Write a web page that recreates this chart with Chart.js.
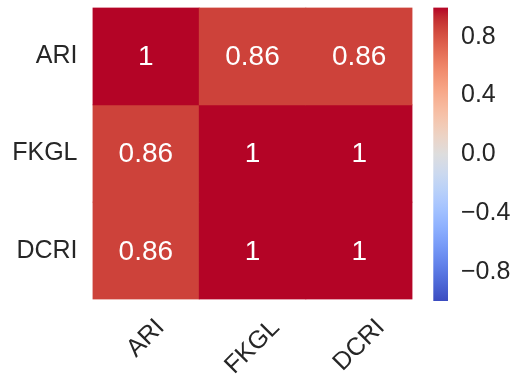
<!DOCTYPE html>
<html>
<head>
<meta charset="utf-8">
<script src="https://cdn.jsdelivr.net/npm/chart.js@4/dist/chart.umd.min.js"></script>
<style>
  html, body { margin: 0; padding: 0; background: #ffffff; }
  #wrap { position: relative; width: 514px; height: 378px; overflow: hidden; background: #fff; }
  #hm { position: absolute; left: 0; top: 0; }
  #cb { position: absolute; left: 420px; top: 0; }
</style>
</head>
<body>
<div id="wrap">
  <canvas id="hm" width="514" height="378"></canvas>
  <canvas id="cb" width="94" height="378"></canvas>
</div>
<script>
// ---- data ----
const categories = ['ARI', 'FKGL', 'DCRI'];
const rowARI  = [1, 0.86, 0.86];
const rowFKGL = [0.86, 1, 1];
const rowDCRI = [0.86, 1, 1];
const colorbarTicks = [-0.8, -0.4, 0.0, 0.4, 0.8];
const vmin = -1;
const vmax = 1;

// ---- style ----
const rows = [rowARI, rowFKGL, rowDCRI];
const TICK_FONT = { family: '"Liberation Sans", Arial, sans-serif', size: 25 };
const TICK_COLOR = '#262626';
const ANNOT_FONT = '28px "Liberation Sans", Arial, sans-serif';

// coolwarm colormap (Moreland) control points
const COOLWARM = [
  [59,76,192],[68,90,204],[77,104,215],[87,117,225],[98,130,234],[108,142,241],[119,154,247],
  [130,165,251],[141,176,254],[152,185,255],[163,194,255],[174,201,253],[184,208,249],
  [194,213,244],[204,217,238],[213,219,230],[221,221,221],[229,216,209],[236,211,197],
  [241,204,184],[245,196,172],[247,187,160],[247,177,148],[247,166,135],[244,154,123],
  [241,141,111],[236,127,99],[229,112,88],[222,96,77],[213,80,66],[203,62,56],[192,40,47],[180,4,38]
];
function cmapT(t) {
  t = Math.max(0, Math.min(1, t));
  const n = COOLWARM.length - 1;
  const f = t * n;
  const i = Math.min(n - 1, Math.floor(f));
  const r = f - i;
  const a = COOLWARM[i], b = COOLWARM[i + 1];
  const c = a.map((v, k) => Math.round(v + (b[k] - v) * r));
  return `rgb(${c[0]},${c[1]},${c[2]})`;
}
function cmap(v) { return cmapT((v - vmin) / (vmax - vmin)); }
function fmtAnnot(v) { return String(Number(v.toPrecision(2))); }
function fmtTick(v) { const s = Math.abs(v).toFixed(1); return v < -1e-9 ? '\u2212' + s : s; }

// annotations inside the cells
const annotPlugin = {
  id: 'annot',
  afterDatasetsDraw(chart) {
    const ctx = chart.ctx;
    ctx.save();
    ctx.font = ANNOT_FONT;
    ctx.fillStyle = '#ffffff';
    ctx.textAlign = 'center';
    ctx.textBaseline = 'middle';
    chart.data.datasets.forEach((ds, i) => {
      const meta = chart.getDatasetMeta(i);
      meta.data.forEach((el, j) => {
        const cy = (el.y + el.base) / 2;
        ctx.fillText(fmtAnnot(ds.values[j]), el.x, cy + 1);
      });
    });
    ctx.restore();
  }
};

// rotated x tick labels (centered bbox like matplotlib)
const xLabelPlugin = {
  id: 'xlabels',
  afterDraw(chart) {
    const ctx = chart.ctx;
    const xs = chart.scales.x;
    ctx.save();
    ctx.font = `${TICK_FONT.size}px ${TICK_FONT.family}`;
    ctx.fillStyle = TICK_COLOR;
    ctx.textAlign = 'center';
    ctx.textBaseline = 'middle';
    categories.forEach((lab, i) => {
      const cx = xs.getPixelForValue(i);
      const w = ctx.measureText(lab).width;
      const bb = (w + 19) * Math.SQRT1_2;
      const cy = chart.chartArea.bottom + 17.5 + bb / 2;
      ctx.save();
      ctx.translate(cx, cy);
      ctx.rotate(-Math.PI / 4);
      ctx.fillText(lab, 0, 0);
      ctx.restore();
    });
    ctx.restore();
  }
};

new Chart(document.getElementById('hm'), {
  type: 'bar',
  data: {
    labels: categories,
    datasets: rows.map((r, i) => ({
      label: categories[i],
      data: r.map(() => 1),
      values: r,
      backgroundColor: r.map(cmap),
      borderWidth: 0,
      barPercentage: 1,
      categoryPercentage: 1
    }))
  },
  options: {
    responsive: false,
    animation: false,
    devicePixelRatio: 1,
    layout: { padding: { left: 0, top: 7.5, right: 101.5, bottom: 0 } },
    plugins: { legend: { display: false }, tooltip: { enabled: false } },
    scales: {
      x: {
        stacked: true,
        grid: { display: false, drawTicks: false },
        border: { display: false },
        ticks: { display: false },
        afterFit(s) { s.height = 78.5; s.paddingLeft = 0; s.paddingRight = 0; }
      },
      y: {
        stacked: true,
        min: 0, max: 3,
        reverse: true,
        grid: { display: false, drawTicks: false },
        border: { display: false },
        afterBuildTicks(s) { s.ticks = categories.map((c, i) => ({ value: i + 0.5 })); },
        ticks: {
          padding: 15,
          font: TICK_FONT,
          color: TICK_COLOR,
          callback: (v) => categories[Math.floor(v)]
        },
        afterFit(s) { s.width = 92.5; s.paddingTop = 0; s.paddingBottom = 0; }
      }
    }
  },
  plugins: [annotPlugin, xLabelPlugin]
});

// colorbar
new Chart(document.getElementById('cb'), {
  type: 'bar',
  data: {
    labels: [''],
    datasets: [{
      data: [[vmin, vmax]],
      borderWidth: 0,
      barPercentage: 1,
      categoryPercentage: 1,
      backgroundColor: (c) => {
        const chart = c.chart;
        if (!chart.chartArea) return cmap(0);
        const ys = chart.scales.y;
        const y0 = ys.getPixelForValue(vmin), y1 = ys.getPixelForValue(vmax);
        const g = chart.ctx.createLinearGradient(0, y0, 0, y1);
        for (let k = 0; k < COOLWARM.length; k++) {
          const t = k / (COOLWARM.length - 1);
          g.addColorStop(t, cmapT(t));
        }
        return g;
      }
    }]
  },
  options: {
    responsive: false,
    animation: false,
    devicePixelRatio: 1,
    layout: { padding: { left: 13.3, top: 7.5, right: 0, bottom: 77 } },
    plugins: { legend: { display: false }, tooltip: { enabled: false } },
    scales: {
      x: { display: false },
      y: {
        position: 'right',
        min: vmin, max: vmax,
        grid: { display: false, drawTicks: false },
        border: { display: false },
        afterBuildTicks(s) { s.ticks = colorbarTicks.map(v => ({ value: v })); },
        ticks: {
          padding: 13,
          font: TICK_FONT,
          color: TICK_COLOR,
          callback: (v) => fmtTick(v)
        },
        afterFit(s) { s.width = 66; s.paddingTop = 0; s.paddingBottom = 0; }
      }
    }
  }
});
</script>
</body>
</html>
